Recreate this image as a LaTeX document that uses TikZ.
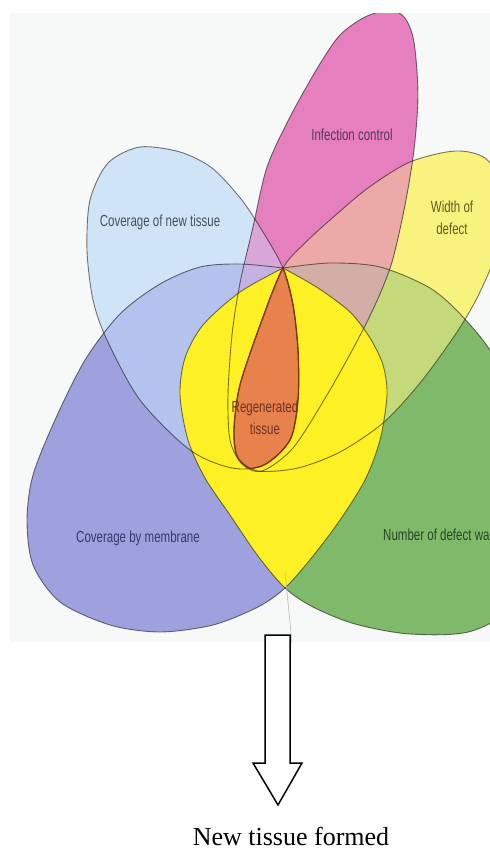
\documentclass[tikz,border=0pt]{standalone}
\usepackage{fontspec}
\setmainfont{Liberation Serif}
\newfontfamily\lblfont[FakeStretch=0.72]{Liberation Sans}
\definecolor{bgc}{HTML}{F7F8F8}
\definecolor{cBl}{HTML}{D0E4F7}
\definecolor{cPu}{HTML}{9EA1DD}
\definecolor{cGr}{HTML}{7FBA6A}
\definecolor{cWd}{HTML}{F8F27F}
\definecolor{cPk}{HTML}{E67FBE}
\definecolor{cBlPu}{HTML}{B3C3EE}
\definecolor{cBlPk}{HTML}{D8A7D7}
\definecolor{cPkWd}{HTML}{EBA9A7}
\definecolor{cWdGr}{HTML}{C4D97A}
\definecolor{cPkGr}{HTML}{D3AEA6}
\definecolor{cPkPu}{HTML}{C4B2E2}
\definecolor{cLens}{HTML}{FDF024}
\definecolor{cOr}{HTML}{E8824C}
\definecolor{tPk}{HTML}{553855}
\definecolor{tBl}{HTML}{475068}
\definecolor{tWd}{HTML}{5F5E25}
\definecolor{tOr}{HTML}{6E3222}
\definecolor{tPu}{HTML}{363A6C}
\definecolor{tGr}{HTML}{2A4725}
\definecolor{orl}{HTML}{7E3518}
\begin{document}
\begin{tikzpicture}[x=1pt,y=-1pt,
  Pk/.style={insert path={plot[smooth cycle] coordinates{(390,10) (405,18) (414,42) (418,95) (414,150) (405,205) (392,262) (376,303) (355,345) (327,395) (293,448) (262,471) (242,464) (230,440) (228,395) (232,335) (240,283) (253,227) (267,167) (290,117) (318,67) (340,35) (365,17)}}},
  Bl/.style={insert path={plot[smooth cycle] coordinates{(140,147) (180,152) (212,168) (241,199) (263,232) (283,268) (293,305) (298,350) (298,400) (290,440) (264,465) (232,468) (190,450) (140,400) (107,340) (93,300) (87,250) (90,200) (108,163)}}},
  Wd/.style={insert path={plot[smooth cycle] coordinates{(283,268) (305,243) (330,220) (368,188) (410,162) (455,151) (485,158) (502,185) (503,225) (493,262) (476,300) (455,335) (420,383) (383,423) (340,452) (298,468) (258,471) (238,458) (234,430) (240,385) (262,320)}}},
  Pu/.style={insert path={plot[smooth] coordinates{(283,268) (240,264) (200,267) (160,284) (120,314) (85,360) (55,420) (33,475) (27,520) (33,565) (60,602) (110,625) (160,632) (213,625) (258,607) (285,588) (313,556) (340,520) (365,480) (380,440) (387,395) (383,365) (370,338) (350,312) (318,288) (283,268)} -- cycle}},
  Gr/.style={insert path={plot[smooth] coordinates{(283,268) (330,263) (380,267) (430,288) (463,317) (495,358) (528,430) (540,520) (522,598) (472,631) (410,634) (355,624) (313,607) (285,588) (258,556) (230,515) (205,478) (188,440) (180,395) (185,358) (203,325) (240,292) (283,268)} -- cycle}},
  outl/.style={draw=black, draw opacity=0.52, line width=0.9pt},
  orline/.style={draw=orl, line width=1.3pt},
  lbl/.style={inner sep=0pt, align=center, font=\lblfont\fontsize{16}{22}\selectfont},
]
\useasboundingbox (0,0) rectangle (490,852);
\fill[white] (0,0) rectangle (490,852);
\begin{scope}
  \clip (10,13) rectangle (490,642);
  \fill[bgc] (10,13) rectangle (490,642);
  % pure petals
  \fill[cBl] [Bl];
  \fill[cPu] [Pu];
  \fill[cGr] [Gr];
  \fill[cWd] [Wd];
  \fill[cPk] [Pk];
  % overlaps
  \begin{scope}\clip[Bl]; \fill[cBlPu] [Pu];\end{scope}
  \begin{scope}\clip[Bl]; \fill[cBlPk] [Pk];\end{scope}
  \begin{scope}\clip[Pk]; \fill[cPkWd] [Wd];\end{scope}
  \begin{scope}\clip[Wd]; \fill[cWdGr] [Gr];\end{scope}
  \begin{scope}\clip[Pk]; \fill[cPkGr] [Gr];\end{scope}
  \begin{scope}\clip[Pk]; \fill[cPkPu] [Pu];\end{scope}
  % central lens and regenerated tissue
  \begin{scope}\clip[Pu]; \fill[cLens] [Gr];\end{scope}
  \begin{scope}\clip[Bl]; \fill[cOr] [Wd];\end{scope}
  % outlines
  \path[outl] [Bl];
  \path[outl] [Pu];
  \path[outl] [Gr];
  \path[outl] [Wd];
  \path[outl] [Pk];
  \begin{scope}\clip[Bl]; \path[orline] [Wd];\end{scope}
  \begin{scope}\clip[Wd]; \path[orline] [Bl];\end{scope}
  % labels
  \node[lbl, text=tPk] (lInf) at (352,135) {Infection control};
  \node[lbl, text=tBl] (lCov) at (160,222) {Coverage of new tissue};
  \node[lbl, text=tWd] (lWid) at (452,218) {Width of\\defect};
  \node[lbl, text=tOr] (lReg) at (265,418) {Regenerated\\tissue};
  \node[lbl, text=tPu] (lMem) at (138,538) {Coverage by membrane};
  \node[lbl, text=tGr, anchor=west] (lNum) at (383,535) {Number of defect walls};
  % pointer line
  \coordinate (ptrA) at (285,572);
  \coordinate (ptrB) at (292,643);
  \draw[gray!55, line width=0.6pt] (ptrA) -- (ptrB);
\end{scope}
% block arrow
\coordinate (aTL) at (265,635);
\coordinate (aTR) at (290,635);
\coordinate (aSR) at (290,763);
\coordinate (aHR) at (302,763);
\coordinate (aTip) at (278,805);
\coordinate (aHL) at (253,763);
\coordinate (aSL) at (265,763);
\draw[line width=1.5pt, fill=white, line join=miter] (aTL) -- (aTR) -- (aSR) -- (aHR) -- (aTip) -- (aHL) -- (aSL) -- cycle;
\node[anchor=base, inner sep=0pt, text depth=0pt, font=\fontsize{26}{30}\selectfont] (result) at (291,845) {New tissue formed};
\end{tikzpicture}
\end{document}
